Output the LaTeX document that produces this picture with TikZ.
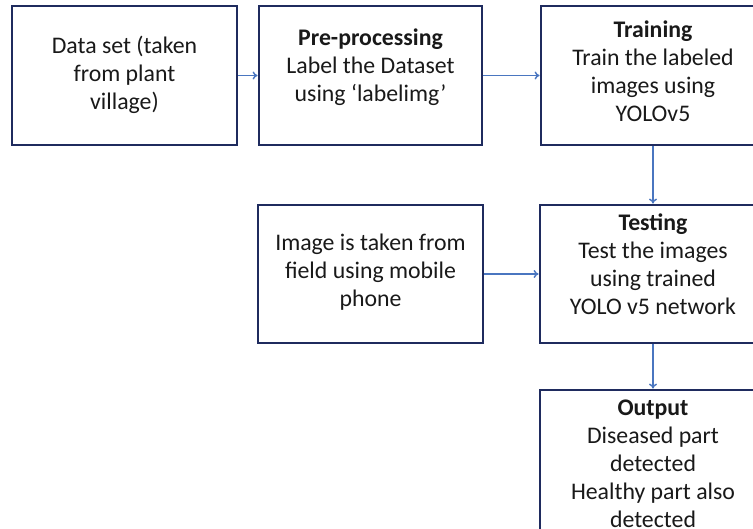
\documentclass[tikz,border=0pt]{standalone}
\usepackage{fontspec}
\setmainfont{Carlito}
\usetikzlibrary{arrows.meta}
\definecolor{boxline}{HTML}{1F2B5E}
\definecolor{arrowblue}{HTML}{4A76C0}
\newcommand{\fl}{\rule{0pt}{18pt}}
\tikzset{
  box/.style={draw=boxline, line width=2.8pt, rectangle, inner sep=0pt, fill=white},
  txt/.style={align=center, anchor=north, inner sep=0pt, font=\fontsize{23.8}{28}\selectfont, text=black!90},
  arr/.style={draw=arrowblue, line width=1.4pt, -{To[length=5pt,width=8pt]}}
}
\begin{document}
\begin{tikzpicture}[x=1pt,y=-1pt]
\useasboundingbox (0,0) rectangle (753,528);
\clip (0,0) rectangle (753,528);
\fill[white] (0,0) rectangle (753,528);
% boxes
\node[box, minimum width=225pt, minimum height=139pt] (b1) at (124.5,75.5) {};
\node[box, minimum width=223pt, minimum height=139pt] (b2) at (370.5,75.5) {};
\node[box, minimum width=224pt, minimum height=139pt] (b3) at (653,75.5) {};
\node[box, minimum width=225pt, minimum height=138pt] (b5) at (370.5,274) {};
\node[box, minimum width=226pt, minimum height=138pt] (b4) at (653,274) {};
\node[box, minimum width=226pt, minimum height=200pt] (b6) at (653,490) {};
% texts
\node[txt] (t1) at (124.5,35) {\fl Data set (taken\\from plant\\village)};
\node[txt] (t2) at (370.5,27) {\fl\textbf{Pre-processing}\\Label the Dataset\\using ‘labelimg’};
\node[txt] (t3) at (653,19) {\fl\textbf{Training}\\Train the labeled\\images using\\YOLOv5};
\node[txt] (t5) at (370.5,232) {\fl Image is taken  from\\field using  mobile\\phone};
\node[txt] (t4) at (653,212) {\fl\textbf{Testing}\\Test the  images\\using trained\\YOLO v5 network};
\node[txt] (t6) at (653,397) {\fl\textbf{Output}\\Diseased part\\detected\\Healthy part also\\detected};
% connectors
\draw[arr] (b1.east) -- (b2.west);
\draw[arr] (b2.east) -- (b3.west);
\draw[arr] (b3.south) -- (b4.north);
\draw[arr] (b5.east) -- (b4.west);
\draw[arr] (b4.south) -- (b6.north);
\end{tikzpicture}
\end{document}
